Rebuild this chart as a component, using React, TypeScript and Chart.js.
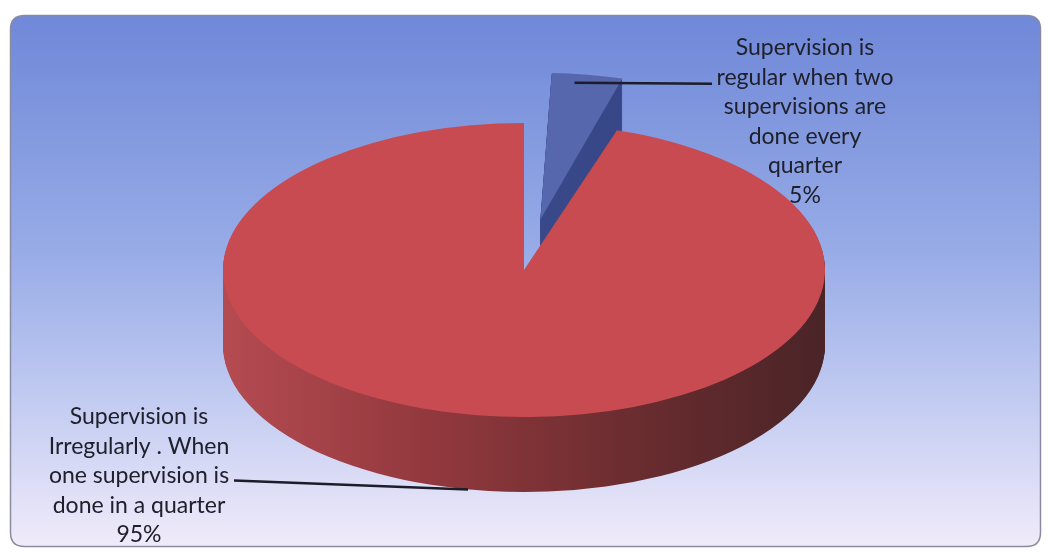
import { useEffect, useRef } from "react";
import { Chart, registerables } from "chart.js";

Chart.register(...registerables);

// ---- data ----
const categories = [
  "Supervision is regular when two supervisions are done every quarter",
  "Supervision is Irregularly . When one supervision is done in a quarter",
];
const labelLines = [
  ["Supervision is", "regular when two", "supervisions are", "done every", "quarter"],
  ["Supervision is", "Irregularly . When", "one supervision is", "done in a quarter"],
];
const values = [5, 95];

// ---- styles ----
const topColors = ["#5667ad", "#c94b52"];
const wallColors = [
  ["#3f4f95", "#33427f"],
  ["#b44b51", "#93393e", "#6c2d30", "#4a2427"],
];
const sliceOffsets = [416, 0];

const W = 1048;
const H = 552;
const RADIUS = 301;
const K = 147 / 301; // vertical squash of the tilted pie
const DEPTH = 75;
const FONT = "23px Lato";
const TEXT_COLOR = "#20202c";
const LINE_H = 29.5;
const LABEL_POS = [
  { x: 805, y: 48 },
  { x: 139, y: 417 },
];
const LEADER_END = [
  { x: 712, dy: 1 },
  { x: 234, dy: -9 },
];

function sliceGeom(el: any) {
  const o = el.options || {};
  const off = (o.offset || 0) / 4;
  const half = (el.startAngle + el.endAngle) / 2;
  const circ = el.endAngle - el.startAngle;
  const fix = 1 - Math.sin(Math.min(Math.PI, circ));
  const rOff = off * fix;
  const outer = el.outerRadius + rOff;
  const beta = Math.max(0.001, circ * outer - rOff / Math.PI) / outer;
  const ang = (circ - beta) / 2;
  return {
    x: el.x + Math.cos(half) * off,
    y: el.y + Math.sin(half) * off,
    r: outer,
    sa: el.startAngle + ang,
    ea: el.endAngle - ang,
  };
}

function applyTilt(ctx: CanvasRenderingContext2D, cy: number, dy: number) {
  ctx.translate(0, cy + dy);
  ctx.scale(1, K);
  ctx.translate(0, -cy);
}

const tiltPlugin = {
  id: "tilt3d",
  beforeDraw(chart: any) {
    const ctx: CanvasRenderingContext2D = chart.ctx;
    ctx.save();
    const x = 10.5, y = 15.5, w = 1030, h = 531, r = 14;
    ctx.beginPath();
    ctx.moveTo(x + r, y);
    ctx.lineTo(x + w - r, y);
    ctx.quadraticCurveTo(x + w, y, x + w, y + r);
    ctx.lineTo(x + w, y + h - r);
    ctx.quadraticCurveTo(x + w, y + h, x + w - r, y + h);
    ctx.lineTo(x + r, y + h);
    ctx.quadraticCurveTo(x, y + h, x, y + h - r);
    ctx.lineTo(x, y + r);
    ctx.quadraticCurveTo(x, y, x + r, y);
    ctx.closePath();
    const g = ctx.createLinearGradient(0, y, 0, y + h);
    g.addColorStop(0, "#6f88d8");
    g.addColorStop(0.45, "#98ace7");
    g.addColorStop(0.75, "#c6cef2");
    g.addColorStop(1, "#f0ebfa");
    ctx.fillStyle = g;
    ctx.fill();
    ctx.strokeStyle = "#8a8aa0";
    ctx.lineWidth = 1.5;
    ctx.stroke();
    ctx.restore();
  },
  afterDatasetUpdate(chart: any) {
    const meta = chart.getDatasetMeta(0);
    meta.data.forEach((el: any) => {
      const off = (el.options?.offset || 0) / 4;
      if (!off) return;
      const circ = el.endAngle - el.startAngle;
      const fix = 1 - Math.sin(Math.min(Math.PI, circ));
      el.outerRadius = RADIUS - off * fix;
    });
  },
  beforeDatasetsDraw(chart: any) {
    const ctx: CanvasRenderingContext2D = chart.ctx;
    const meta = chart.getDatasetMeta(0);
    const center = meta.data[meta.data.length - 1];
    const cx = center.x;
    const cy = center.y;
    meta.data.forEach((el: any, i: number) => {
      const g = sliceGeom(el);
      const grad = ctx.createLinearGradient(cx - RADIUS, 0, cx + RADIUS, 0);
      const cols = wallColors[i];
      cols.forEach((c, j) => grad.addColorStop(j / (cols.length - 1), c));
      for (let d = DEPTH; d >= 1; d--) {
        ctx.save();
        applyTilt(ctx, cy, d);
        ctx.beginPath();
        ctx.moveTo(g.x, g.y);
        ctx.arc(g.x, g.y, g.r, g.sa, g.ea);
        ctx.closePath();
        ctx.fillStyle = grad;
        ctx.fill();
        ctx.restore();
      }
    });
    ctx.save();
    applyTilt(ctx, cy, 0);
  },
  afterDatasetsDraw(chart: any) {
    const ctx: CanvasRenderingContext2D = chart.ctx;
    ctx.restore();
    const meta = chart.getDatasetMeta(0);
    const center = meta.data[meta.data.length - 1];
    const cy = center.y;
    const tilt = (py: number) => cy + (py - cy) * K;

    // leader lines
    ctx.save();
    ctx.strokeStyle = "#1c1c2a";
    ctx.lineWidth = 2.5;
    const gb = sliceGeom(meta.data[0]);
    const mb = gb.sa + (gb.ea - gb.sa) * 0.35;
    const ax = gb.x + Math.cos(mb) * gb.r * 0.94;
    const ay = tilt(gb.y + Math.sin(mb) * gb.r * 0.94);
    ctx.beginPath();
    ctx.moveTo(ax, ay);
    ctx.lineTo(LEADER_END[0].x, ay + LEADER_END[0].dy);
    ctx.stroke();
    const gr = sliceGeom(meta.data[1]);
    const a = Math.PI / 2 + 0.187;
    const bx = gr.x + Math.cos(a) * gr.r;
    const by = tilt(gr.y + Math.sin(a) * gr.r) + DEPTH;
    ctx.beginPath();
    ctx.moveTo(bx, by);
    ctx.lineTo(LEADER_END[1].x, by + LEADER_END[1].dy);
    ctx.stroke();
    ctx.restore();

    // labels
    ctx.save();
    ctx.font = FONT;
    ctx.fillStyle = TEXT_COLOR;
    ctx.textAlign = "center";
    ctx.textBaseline = "middle";
    labelLines.forEach((lines, i) => {
      const all = [...lines, `${values[i]}%`];
      all.forEach((t, j) => {
        ctx.fillText(t, LABEL_POS[i].x, LABEL_POS[i].y + j * LINE_H);
      });
    });
    ctx.restore();
  },
};

export default function App() {
  const ref = useRef<HTMLCanvasElement | null>(null);
  useEffect(() => {
    if (!ref.current) return;
    const chart = new Chart(ref.current, {
      type: "pie",
      data: {
        labels: categories,
        datasets: [
          {
            data: values,
            backgroundColor: topColors,
            borderWidth: 0,
            offset: sliceOffsets,
            radius: RADIUS,
            clip: false,
          } as any,
        ],
      },
      options: {
        responsive: false,
        animation: false,
        events: [],
        devicePixelRatio: 1,
        layout: { padding: { left: 0, right: 0, top: 0, bottom: 12 } },
        plugins: {
          legend: { display: false },
          tooltip: { enabled: false },
        },
      } as any,
      plugins: [tiltPlugin as any],
    });
    return () => chart.destroy();
  }, []);
  return (
    <div style={{ position: "fixed", left: 0, top: 0, width: W, height: H, background: "#ffffff" }}>
      <canvas ref={ref} width={W} height={H} style={{ display: "block", width: W, height: H }} />
    </div>
  );
}
